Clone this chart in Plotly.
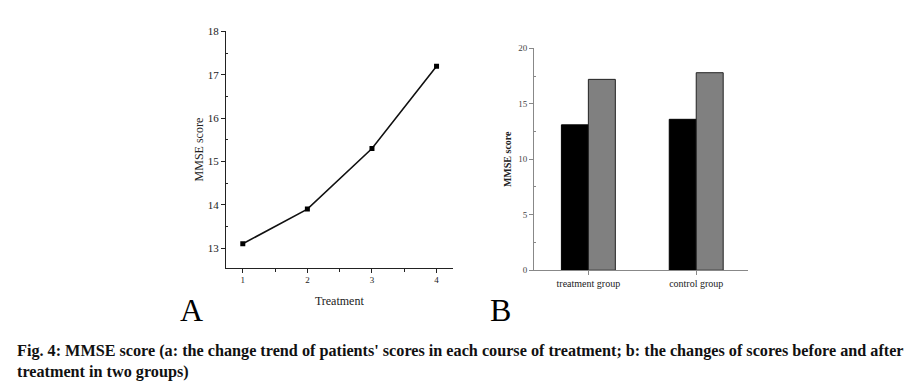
import plotly.graph_objects as go

# Panel A data
courses = [1, 2, 3, 4]
scores_a = [13.1, 13.9, 15.3, 17.2]

# Panel B data
groups = ["treatment group", "control group"]
before = [13.1, 13.6]
after = [17.2, 17.8]

SERIF = "Liberation Serif, Times New Roman, serif"
W, H = 918, 388
OFF = 8  # default body margin of the page


def px(x):
    return (x - OFF) / W


def py(y):
    return 1 - (y - OFF) / H


fig = go.Figure()

fig.add_trace(go.Scatter(
    x=courses, y=scores_a, mode="lines+markers",
    line=dict(color="#111111", width=1.6),
    marker=dict(symbol="square", size=5, color="#000000"),
    xaxis="x", yaxis="y", showlegend=False))

fig.add_trace(go.Bar(
    x=groups, y=before, marker=dict(color="#000000", line=dict(color="#000000", width=1)),
    xaxis="x2", yaxis="y2", showlegend=False))
fig.add_trace(go.Bar(
    x=groups, y=after, marker=dict(color="#808080", line=dict(color="#222222", width=1)),
    xaxis="x2", yaxis="y2", showlegend=False))

axis_common = dict(showgrid=False, zeroline=False, showline=True, linecolor="#222222",
                   linewidth=1, ticks="outside", ticklen=4, tickcolor="#222222", mirror=False)
axis_b = {**axis_common, "linecolor": "#888888", "tickcolor": "#888888"}

fig.update_layout(
    width=W, height=H,
    margin=dict(l=0, r=0, t=0, b=0),
    paper_bgcolor="white", plot_bgcolor="white",
    barmode="group", bargap=0.5, bargroupgap=0,
    font=dict(family=SERIF, color="#222222"),
    xaxis=dict(domain=[px(226), px(452.7)], range=[0.74, 4.25], anchor="y",
               tickvals=courses, tickfont=dict(size=9),
               minor=dict(tickvals=[1.5, 2.5, 3.5], ticks="outside", ticklen=3, tickcolor="#222222"),
               title=dict(text="Treatment", font=dict(size=12), standoff=12),
               **axis_common),
    yaxis=dict(domain=[py(269), py(26)], range=[12.55, 18.0], anchor="x",
               tickvals=[13, 14, 15, 16, 17, 18], tickfont=dict(size=11),
               minor=dict(tickvals=[13.5, 14.5, 15.5, 16.5, 17.5], ticks="inside", ticklen=2, tickcolor="#222222"),
               title=dict(text="MMSE score", font=dict(size=12), standoff=1),
               **axis_common),
    xaxis2=dict(domain=[px(534), px(748)], range=[-0.504, 1.48], anchor="y2",
                tickfont=dict(size=10),
                **axis_b),
    yaxis2=dict(domain=[py(271.7), py(43.3)], range=[0, 20], anchor="x2",
                tickvals=[0, 5, 10, 15, 20], tickfont=dict(size=9, color="#444444"),
                minor=dict(tickvals=[2.5, 7.5, 12.5, 17.5], ticks="inside", ticklen=2, tickcolor="#888888"),
                title=dict(text="<b>MMSE score</b>", font=dict(size=10), standoff=4),
                **axis_b),
)

fig.add_annotation(text="A", x=px(191), y=py(313), xref="paper", yref="paper", showarrow=False,
                   xanchor="center", yanchor="middle",
                   font=dict(family=SERIF, size=32, color="#000000"))
fig.add_annotation(text="B", x=px(500), y=py(313), xref="paper", yref="paper", showarrow=False,
                   xanchor="center", yanchor="middle",
                   font=dict(family=SERIF, size=32, color="#000000"))

fig.add_annotation(
    text="<b>Fig. 4: MMSE score (a: the change trend of patients' scores in each course of treatment; b: the changes of scores before and after<br>treatment in two groups)</b>",
    x=px(15), y=py(344), xref="paper", yref="paper", xanchor="left", yanchor="top",
    align="left", showarrow=False,
    font=dict(family=SERIF, size=16.2, color="#111111"))

fig.write_html("out.html")
